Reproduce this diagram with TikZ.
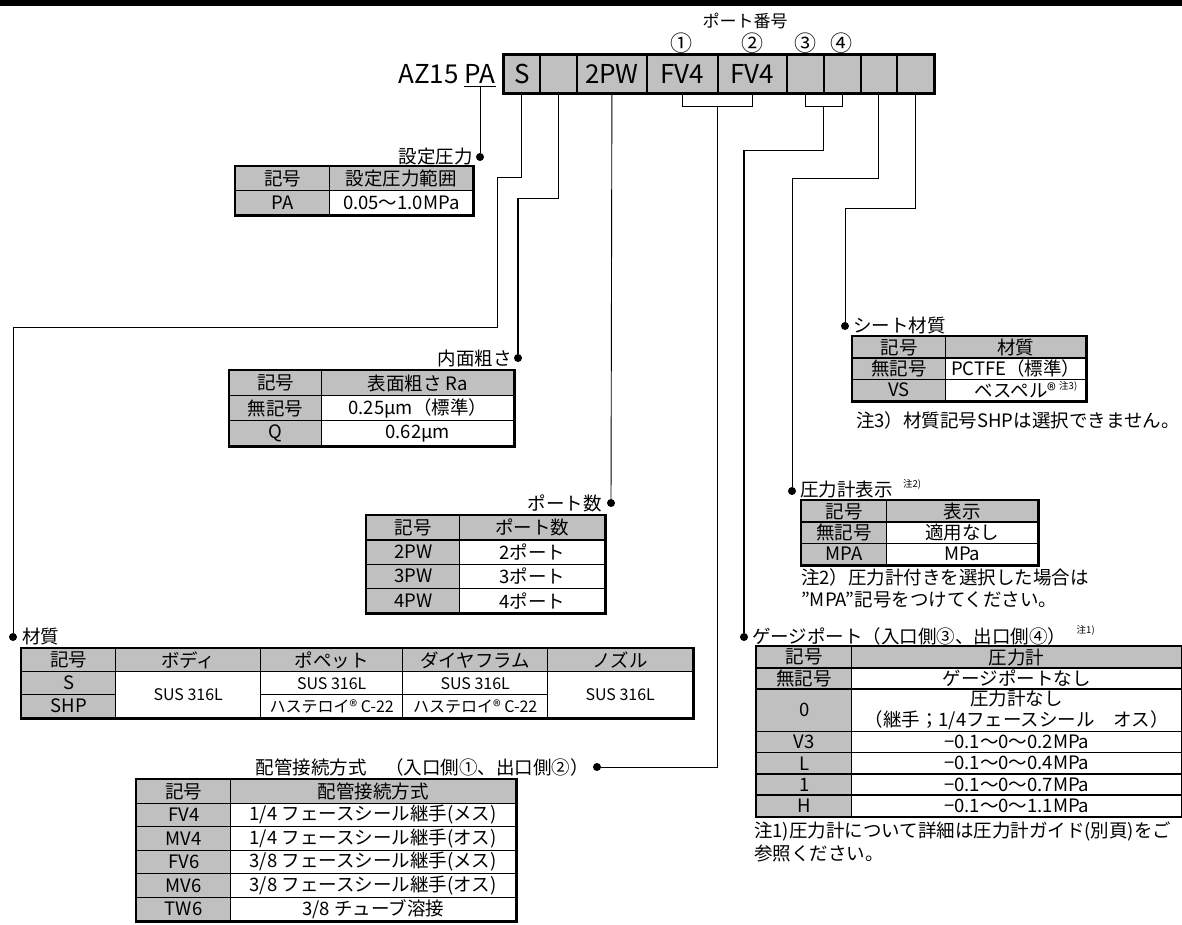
\documentclass[tikz,border=0pt]{standalone}
\usepackage{fontspec}
\setmainfont{Noto Sans CJK JP}
\definecolor{keygray}{RGB}{192,192,192}

\begin{document}
\begin{tikzpicture}[x=1pt,y=-1pt,
  every node/.style={font=\fontsize{18.5}{21}\selectfont, inner sep=0pt},
  kcell/.style={draw, line width=1.4pt, fill=keygray},
  vcell/.style={draw, line width=1.4pt, fill=white},
  tframe/.style={line width=2.4pt},
  codebox/.style={draw, line width=1.8pt, fill=keygray, minimum height=38, font=\fontsize{26}{28}\selectfont},
  link/.style={line width=0.9pt},
  boldlink/.style={line width=2.4pt},
  dot/.style={circle, fill, minimum size=8},
  note/.style={font=\fontsize{9.5}{10}\selectfont}]

 \useasboundingbox (0,0) rectangle (1182,925);
 \fill (0,0) rectangle (1182,6); %上の罫線

 % 型式
 \node[font=\fontsize{17}{20}\selectfont] (portno) at (745,21) {ポート番号};
 \node[font=\fontsize{22}{24}\selectfont] (no1) at (681,43) {①};
 \node[font=\fontsize{22}{24}\selectfont] (no2) at (752,43) {②};
 \node[font=\fontsize{22}{24}\selectfont] (no3) at (805,43) {③};
 \node[font=\fontsize{22}{24}\selectfont] (no4) at (841,43) {④};
 \node[font=\fontsize{26}{28}\selectfont] (pa) at (480,74) {PA};
 \node[font=\fontsize{26}{28}\selectfont, anchor=east] (az) at (459,74) {AZ15};
 \foreach \n/\l/\w/\t in {1/503/36/S, 2/539/37/{}, 3/576/70/2PW, 4/646/71/FV4, 5/717/69/FV4, 6/786/37/{}, 7/823/37/{}, 8/860/36/{}, 9/896/37/{}}
  \node[codebox, minimum width=\w, anchor=west] (b\n) at (\l,74) {\t};
 \draw[line width=3pt] (b1.north west) rectangle (b9.south east);
 \draw[link] ([yshift=-3pt]pa.base west) -- ([yshift=-3pt]pa.base east); %下線

 % 設定圧力
 \node[dot] (pa-dot) at (480,157) {};
 \node[anchor=east] (pa-lbl) at (473,157) {設定圧力};
 \draw[link] ([yshift=-3pt]pa.base) -- (pa-dot);
 \node[kcell, minimum width=94, minimum height=24, anchor=north west] (pa-k0) at (235,166) {記号};
 \node[kcell, minimum width=143, minimum height=24, anchor=north west] (pa-v0) at (329,166) {設定圧力範囲};
 \node[kcell, minimum width=94, minimum height=24, anchor=north west] (pa-k1) at (235,190) {PA};
 \node[vcell, minimum width=143, minimum height=24, anchor=north west] (pa-v1) at (329,190) {0.05～1.0MPa};
 \draw[tframe] (pa-k0.north west) rectangle (pa-v1.south east);

 % 内面粗さ
 \node[dot] (ra-dot) at (518,358) {};
 \node[anchor=east] (ra-lbl) at (512,358) {内面粗さ};
 \coordinate (ra-turn) at (518,198);
 \draw[link] (b2.south) |- (ra-turn);
 \draw[boldlink] (ra-turn) -- (ra-dot);
 \foreach \k/\v [count=\i from 0] in {記号/表面粗さ Ra, 無記号/0.25μm（標準）, Q/0.62μm}{
  \ifnum\i=0 \def\vst{kcell}\else\def\vst{vcell}\fi
  \node[kcell, minimum width=92, minimum height=25, anchor=north west] (ra-k\i) at (229,370+25*\i) {\k};
  \node[\vst, minimum width=192, minimum height=25, anchor=north west] (ra-v\i) at (321,370+25*\i) {\v};
 }
 \draw[tframe] (ra-k0.north west) rectangle (ra-v2.south east);

 % ポート数
 \node[dot] (port-dot) at (611,503) {};
 \node[anchor=east] (port-lbl) at (602,503) {ポート数};
 \draw[link] (b3.south) -- (port-dot);
 \foreach \k/\v [count=\i from 0] in {記号/ポート数, 2PW/2ポート, 3PW/3ポート, 4PW/4ポート}{
  \ifnum\i=0 \def\vst{kcell}\else\def\vst{vcell}\fi
  \node[kcell, minimum width=93, minimum height=24.25, anchor=north west] (port-k\i) at (366,515+24.25*\i) {\k};
  \node[\vst, minimum width=145, minimum height=24.25, anchor=north west] (port-v\i) at (459,515+24.25*\i) {\v};
 }
 \draw[tframe] (port-k0.north west) rectangle (port-v3.south east);

 % 材質
 \node[dot] (mat-dot) at (13,637) {};
 \node[anchor=west] (mat-lbl) at (22,636) {材質};
 \draw[link] (b1.south) |- (497,177) |- (13,327) -- (mat-dot);
 \foreach \t/\x/\w [count=\i] in {記号/21/94, ボディ/115/145, ポペット/260/142, ダイヤフラム/402/145, ノズル/547/145}
  \node[kcell, minimum width=\w, minimum height=23, anchor=north west] (mat-h\i) at (\x,648) {\t};
 \begin{scope}[every node/.append style={font=\fontsize{16}{18}\selectfont}]
  \node[kcell, minimum width=94, minimum height=23, anchor=north west, font=\fontsize{18.5}{21}\selectfont] (mat-k1) at (21,671) {S};
  \node[kcell, minimum width=94, minimum height=23, anchor=north west, font=\fontsize{18.5}{21}\selectfont] (mat-k2) at (21,694) {SHP};
  \node[vcell, minimum width=145, minimum height=46, anchor=north west] (mat-body) at (115,671) {SUS 316L};
  \node[vcell, minimum width=142, minimum height=23, anchor=north west] (mat-pp1) at (260,671) {SUS 316L};
  \node[vcell, minimum width=142, minimum height=23, anchor=north west] (mat-pp2) at (260,694) {ハステロイ® C-22};
  \node[vcell, minimum width=145, minimum height=23, anchor=north west] (mat-dp1) at (402,671) {SUS 316L};
  \node[vcell, minimum width=145, minimum height=23, anchor=north west] (mat-dp2) at (402,694) {ハステロイ® C-22};
  \node[vcell, minimum width=145, minimum height=46, anchor=north west] (mat-nz) at (547,671) {SUS 316L};
 \end{scope}
 \draw[tframe] (mat-h1.north west) rectangle (mat-nz.south east);

 % 配管接続方式
 \node[dot] (pipe-dot) at (597,767) {};
 \node[anchor=east] (pipe-lbl) at (589,767) {配管接続方式　（入口側①、出口側②）};
 \coordinate (pipe-mid) at (717,106);
 \draw[link] (b4.south) -- ++(0,13) -| (b5.south);
 \draw[link] (pipe-mid) |- (pipe-dot);
 \foreach \k/\v [count=\i from 0] in {記号/配管接続方式, FV4/{1/4 フェースシール継手(メス)}, MV4/{1/4 フェースシール継手(オス)}, FV6/{3/8 フェースシール継手(メス)}, MV6/{3/8 フェースシール継手(オス)}, TW6/{3/8 チューブ溶接}}{
  \ifnum\i=0 \def\vst{kcell}\else\def\vst{vcell}\fi
  \node[kcell, minimum width=94, minimum height=23.5, anchor=north west] (pipe-k\i) at (136,779+23.5*\i) {\k};
  \node[\vst, minimum width=285, minimum height=23.5, anchor=north west] (pipe-v\i) at (230,779+23.5*\i) {\v};
 }
 \draw[tframe] (pipe-k0.north west) rectangle (pipe-v5.south east);

 % シート材質
 \node[dot] (seat-dot) at (845,326) {};
 \node[anchor=west] (seat-lbl) at (853,325) {シート材質};
 \draw[link] (b9.south) |- (845,208) -- (seat-dot);
 \foreach \k/\v [count=\i from 0] in {記号/材質, 無記号/PCTFE（標準）, VS/ベスペル®\hspace{26pt}}{
  \ifnum\i=0 \def\vst{kcell}\else\def\vst{vcell}\fi
  \node[kcell, minimum width=93, minimum height=21.3, anchor=north west] (seat-k\i) at (852,336+21.3*\i) {\k};
  \node[\vst, minimum width=140, minimum height=21.3, anchor=north west] (seat-v\i) at (945,336+21.3*\i) {\v};
 }
 \draw[tframe] (seat-k0.north west) rectangle (seat-v2.south east);
 \node[note, anchor=north east] (seat-n3) at ([xshift=-9pt,yshift=-3pt]seat-v2.north east) {注3)};
 \node[anchor=west] (seat-note) at (856,420) {注3）材質記号SHPは選択できません。};

 % 圧力計表示
 \node[dot] (disp-dot) at (792,491) {};
 \node[anchor=west] (disp-lbl) at (800,490) {圧力計表示};
 \node[note, anchor=north west] (disp-n2) at ([xshift=10pt,yshift=2pt]disp-lbl.north east) {注2)};
 \draw[link] (b8.south) |- (792,178) -- (disp-dot);
 \foreach \k/\v [count=\i from 0] in {記号/表示, 無記号/適用なし, MPA/MPa}{
  \ifnum\i=0 \def\vst{kcell}\else\def\vst{vcell}\fi
  \node[kcell, minimum width=85, minimum height=21.3, anchor=north west] (disp-k\i) at (801,500+21.3*\i) {\k};
  \node[\vst, minimum width=151, minimum height=21.3, anchor=north west] (disp-v\i) at (886,500+21.3*\i) {\v};
 }
 \draw[tframe] (disp-k0.north west) rectangle (disp-v2.south east);
 \node[anchor=west] (disp-note1) at (801,577) {注2）圧力計付きを選択した場合は};
 \node[anchor=west] (disp-note2) at (801,600) {”MPA”記号をつけてください。};

 % ゲージポート
 \node[dot] (gp-dot) at (744,637) {};
 \node[anchor=west] (gp-lbl) at (752,636) {ゲージポート（入口側③、出口側④）};
 \node[note, anchor=north west] (gp-n1) at ([xshift=10pt,yshift=2pt]gp-lbl.north east) {注1)};
 \coordinate (gp-mid) at (823,106);
 \coordinate (gp-turn) at (744,150);
 \draw[link] (b6.south) -- ++(0,13) -| (b7.south);
 \draw[link] (gp-mid) |- (gp-turn);
 \draw[boldlink] (gp-turn) -- (gp-dot);
 \node[kcell, minimum width=95, minimum height=21.2, anchor=north west] (gp-k0) at (756,646) {記号};
 \node[kcell, minimum width=330, minimum height=21.2, anchor=north west] (gp-v0) at (851,646) {圧力計};
 \node[kcell, minimum width=95, minimum height=21.2, anchor=north west] (gp-k1) at (756,667.2) {無記号};
 \node[vcell, minimum width=330, minimum height=21.2, anchor=north west] (gp-v1) at (851,667.2) {ゲージポートなし};
 \node[kcell, minimum width=95, minimum height=42.4, anchor=north west] (gp-k2) at (756,688.4) {0};
 \node[vcell, minimum width=330, minimum height=42.4, anchor=north west, align=center] (gp-v2) at (851,688.4) {圧力計なし\\（継手；1/4フェースシール　オス）};
 \foreach \k/\v [count=\i from 3] in {V3/−0.1～0～0.2MPa, L/−0.1～0～0.4MPa, 1/−0.1～0～0.7MPa, H/−0.1～0～1.1MPa}{
  \node[kcell, minimum width=95, minimum height=21.2, anchor=north west] (gp-k\i) at (756,667.2+21.2*\i) {\k};
  \node[vcell, minimum width=330, minimum height=21.2, anchor=north west] (gp-v\i) at (851,667.2+21.2*\i) {\v};
 }
 \draw[tframe] (gp-k0.north west) rectangle (gp-v6.south east);
 \node[anchor=west] (gp-note1) at (754,832) {注1)圧力計について詳細は圧力計ガイド(別頁)をご};
 \node[anchor=west] (gp-note2) at (754,854) {参照ください。};
\end{tikzpicture}
\end{document}
